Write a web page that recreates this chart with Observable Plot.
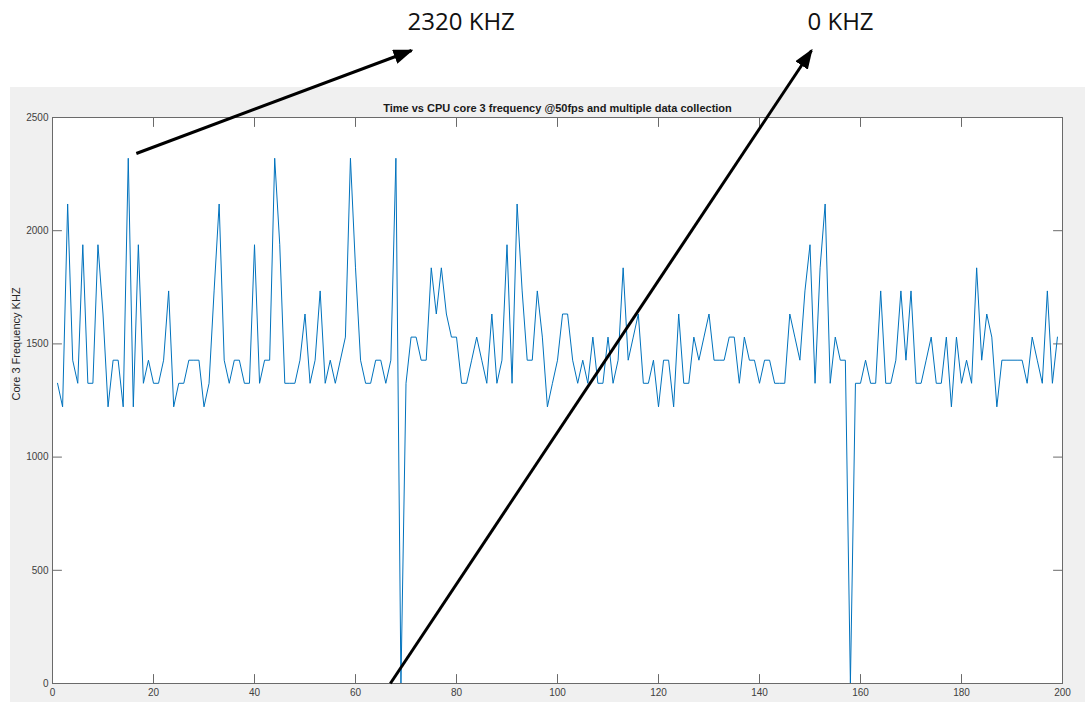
<!DOCTYPE html>
<html>
<head>
<meta charset="utf-8">
<script src="https://cdn.jsdelivr.net/npm/d3@7"></script>
<script src="https://cdn.jsdelivr.net/npm/@observablehq/plot@0.6"></script>
<style>
  html, body { margin: 0; padding: 0; background: #ffffff; }
  #wrap { position: relative; width: 1085px; height: 702px; overflow: hidden; }
  #panel { position: absolute; left: 10px; top: 87px; width: 1075px; height: 615px; background: #f0f0f0; }
  #chart { position: absolute; left: 0; top: 0; }
</style>
</head>
<body>
<div id="wrap"><div id="panel"></div><div id="chart"></div></div>
<script>
// ---- data ----
const sampleIndex = [
  1,2,3,4,5,6,7,8,9,10,11,12,13,14,15,16,17,18,19,20,
  21,22,23,24,25,26,27,28,29,30,31,32,33,34,35,36,37,38,39,40,
  41,42,43,44,45,46,47,48,49,50,51,52,53,54,55,56,57,58,59,60,
  61,62,63,64,65,66,67,68,69,70,71,72,73,74,75,76,77,78,79,80,
  81,82,83,84,85,86,87,88,89,90,91,92,93,94,95,96,97,98,99,100,
  101,102,103,104,105,106,107,108,109,110,111,112,113,114,115,116,117,118,119,120,
  121,122,123,124,125,126,127,128,129,130,131,132,133,134,135,136,137,138,139,140,
  141,142,143,144,145,146,147,148,149,150,151,152,153,154,155,156,157,158,159,160,
  161,162,163,164,165,166,167,168,169,170,171,172,173,174,175,176,177,178,179,180,
  181,182,183,184,185,186,187,188,189,190,191,192,193,194,195,196,197,198,199
];
const core3FrequencyKHZ = [
  1326,1222,2118,1428,1326,1938,1326,1326,1938,1632,1222,1428,1428,1222,2320,1222,1938,1326,1428,1326,
  1326,1428,1734,1222,1326,1326,1428,1428,1428,1222,1326,1734,2118,1428,1326,1428,1428,1326,1326,1938,
  1326,1428,1428,2320,1938,1326,1326,1326,1428,1632,1326,1428,1734,1326,1428,1326,1428,1530,2320,1836,
  1428,1326,1326,1428,1428,1326,1428,2320,0,1326,1530,1530,1428,1428,1836,1632,1836,1632,1530,1530,
  1326,1326,1428,1530,1428,1326,1632,1326,1428,1938,1326,2118,1734,1428,1428,1734,1530,1222,1326,1428,
  1632,1632,1428,1326,1428,1326,1530,1326,1326,1530,1326,1428,1836,1428,1530,1632,1326,1326,1428,1222,
  1428,1428,1222,1632,1326,1326,1530,1428,1530,1632,1428,1428,1428,1530,1530,1326,1530,1428,1428,1326,
  1428,1428,1326,1326,1326,1632,1530,1428,1734,1938,1326,1836,2118,1326,1530,1428,1428,0,1326,1326,
  1428,1326,1326,1734,1326,1326,1428,1734,1428,1734,1326,1326,1428,1530,1326,1326,1530,1222,1530,1326,
  1428,1326,1836,1428,1632,1530,1222,1428,1428,1428,1428,1428,1326,1530,1428,1326,1734,1326,1530
];
const xTicks = [0, 20, 40, 60, 80, 100, 120, 140, 160, 180, 200];
const yTicks = [0, 500, 1000, 1500, 2000, 2500];
const titleText = "Time vs CPU core 3 frequency @50fps and multiple data collection";
const yLabel = "Core 3 Frequency KHZ";

// annotation arrows: from a point near the data feature to the label position (data units)
const annotationLabels = ["2320 KHZ", "0 KHZ"];
const arrowFromX = [16.6, 66.9];
const arrowFromY = [2341, 0];
const arrowToX = [71.1, 150.3];
const arrowToY = [2796, 2796];

// ---- build ----
const series = sampleIndex.map((t, i) => ({t, f: core3FrequencyKHZ[i]}));
const arrows = annotationLabels.map((label, i) => ({
  label, x1: arrowFromX[i], y1: arrowFromY[i], x2: arrowToX[i], y2: arrowToY[i]
}));

const axisColor = "#6a6a6a";
const textColor = "#404040";
const tickShape = {draw(context, l) { context.moveTo(0, 0); context.lineTo(0, -l); }};
const tickOpts = {length: 9, anchor: "start", shape: tickShape, stroke: axisColor, strokeWidth: 1};

const svg = Plot.plot({
  width: 1085,
  height: 702,
  marginLeft: 52,
  marginRight: 23,
  marginTop: 117,
  marginBottom: 19,
  style: {background: "transparent", fontFamily: "Liberation Sans, Arial, sans-serif", fontSize: "10px", overflow: "visible"},
  x: {domain: [0, 200]},
  y: {domain: [0, 2500]},
  marks: [
    Plot.frame({fill: "white", stroke: null}),
    // tick labels
    Plot.axisX({anchor: "bottom", ticks: xTicks, tickSize: 0, tickPadding: 5, tickFormat: d => String(d), label: null, color: textColor, fontSize: 10}),
    Plot.axisY({anchor: "left", ticks: yTicks, tickSize: 0, tickPadding: 4, tickFormat: d => String(d), label: null, color: textColor, fontSize: 10}),
    Plot.text([yLabel], {frameAnchor: "left", rotate: -90, dx: -36, fontSize: 11, fill: "#262626"}),
    // inward ticks on all four sides
    Plot.vector(xTicks, {x: d => d, frameAnchor: "bottom", rotate: 0, ...tickOpts}),
    Plot.vector(xTicks, {x: d => d, frameAnchor: "top", rotate: 180, ...tickOpts}),
    Plot.vector(yTicks, {y: d => d, frameAnchor: "left", rotate: 90, ...tickOpts}),
    Plot.vector(yTicks, {y: d => d, frameAnchor: "right", rotate: 270, ...tickOpts}),
    Plot.line(series, {x: "t", y: "f", stroke: "#0072BD", strokeWidth: 1}),
    Plot.frame({stroke: axisColor, strokeWidth: 1}),
    Plot.text([titleText], {frameAnchor: "top", lineAnchor: "bottom", dy: -6, fontWeight: "bold", fontSize: 11, fill: "#1a1a1a"}),
    // annotations
    Plot.link(arrows, {x1: "x1", y1: "y1", x2: "x2", y2: "y2", stroke: "black", strokeWidth: 3}),
    Plot.text(arrows, {x: "x2", y: "y2", text: "label", textAnchor: "start", dx: -4, dy: -28,
      fontSize: 24, fontFamily: "Open Sans, sans-serif", fill: "#111111"})
  ]
});

// filled arrowheads for the annotation links
const sel = d3.select(svg);
const defs = sel.insert("defs", ":first-child");
defs.append("marker")
  .attr("id", "arrowhead")
  .attr("viewBox", "0 0 20 15")
  .attr("refX", 18).attr("refY", 7.5)
  .attr("markerWidth", 20).attr("markerHeight", 15)
  .attr("markerUnits", "userSpaceOnUse")
  .attr("orient", "auto")
  .append("path").attr("d", "M0,0L20,7.5L0,15Z").attr("fill", "black");
sel.selectAll('g[aria-label="link"] path').attr("marker-end", "url(#arrowhead)");

document.getElementById("chart").appendChild(svg);
</script>
</body>
</html>
